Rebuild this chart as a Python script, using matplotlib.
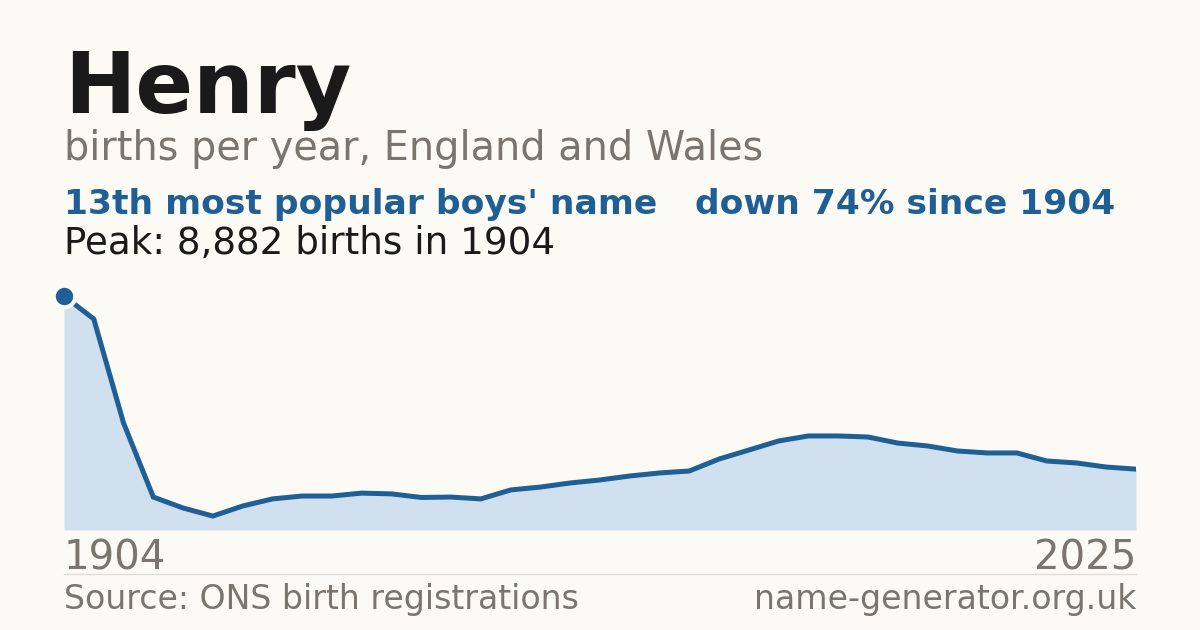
import matplotlib
matplotlib.use("Agg")
import matplotlib.pyplot as plt

# births per year for Henry, evenly spaced samples from 1904 to 2025
first_year = 1904
last_year = 2025
births = [8882, 8010, 4060, 1250, 835, 530, 910, 1180, 1290, 1290,
          1400, 1370, 1235, 1250, 1180, 1520, 1630, 1785, 1900, 2050,
          2165, 2240, 2695, 3035, 3380, 3570, 3570, 3530, 3300, 3190,
          3000, 2925, 2925, 2620, 2545, 2390, 2310]
peak_value = max(births)
peak_index = births.index(peak_value)

BG = "#fbfaf5"
BLUE = "#1f5f96"
FILL = "#d0e0ef"
GREY = "#7a756d"
DARK = "#1a1a1a"
RULE = "#e0ddd5"

W, H = 1200, 630
fig = plt.figure(figsize=(12, 6.3), dpi=100, facecolor=BG)


def px_text(x, y, s, **kw):
    fig.text(x / W, 1 - y / H, s, va="baseline", **kw)


# chart area
ax = fig.add_axes([64 / W, (H - 530) / H, 1072 / W, 250 / H])
ax.set_facecolor(BG)
xs = list(range(len(births)))
ax.fill_between(xs, births, 0, color=FILL, lw=0, zorder=1)
ax.plot(xs, births, color=BLUE, lw=3.6, solid_joinstyle="miter", zorder=2)
ax.plot([peak_index], [peak_value], "o", ms=15.5, color=BLUE,
        markeredgecolor=BG, mew=3, zorder=3, clip_on=False)
ax.set_xlim(0, len(births) - 1)
ax.set_ylim(0, peak_value * 250 / 234)
for sp in ax.spines.values():
    sp.set_visible(False)
ax.set_xticks([])
ax.set_yticks([])
ax.axhline(0, color=RULE, lw=1, zorder=0)

# header
px_text(64, 113, "Henry", fontsize=61.4, fontweight="bold", color=DARK)
px_text(64, 160, "births per year, England and Wales", fontsize=28.6, color=GREY)
px_text(64, 214, "13th most popular boys' name", fontsize=24.8,
        fontweight="bold", color=BLUE)
px_text(695, 214, "down 74% since 1904", fontsize=24.8,
        fontweight="bold", color=BLUE)
px_text(64, 254, f"Peak: {peak_value:,} births in {first_year}",
        fontsize=26.8, color=DARK)

# axis year labels
px_text(64, 570, str(first_year), fontsize=29, color=GREY)
px_text(1136, 570, str(last_year), fontsize=29, color=GREY, ha="right")

# footer rule and text
fig.add_artist(plt.Line2D([64 / W, 1136 / W], [1 - 574 / H, 1 - 574 / H],
                          color=RULE, lw=1))
px_text(64, 609, "Source: ONS birth registrations", fontsize=23.9, color=GREY)
px_text(1136, 609, "name-generator.org.uk", fontsize=23.9, color=GREY, ha="right")

fig.savefig("out.png", dpi=100, facecolor=BG)
